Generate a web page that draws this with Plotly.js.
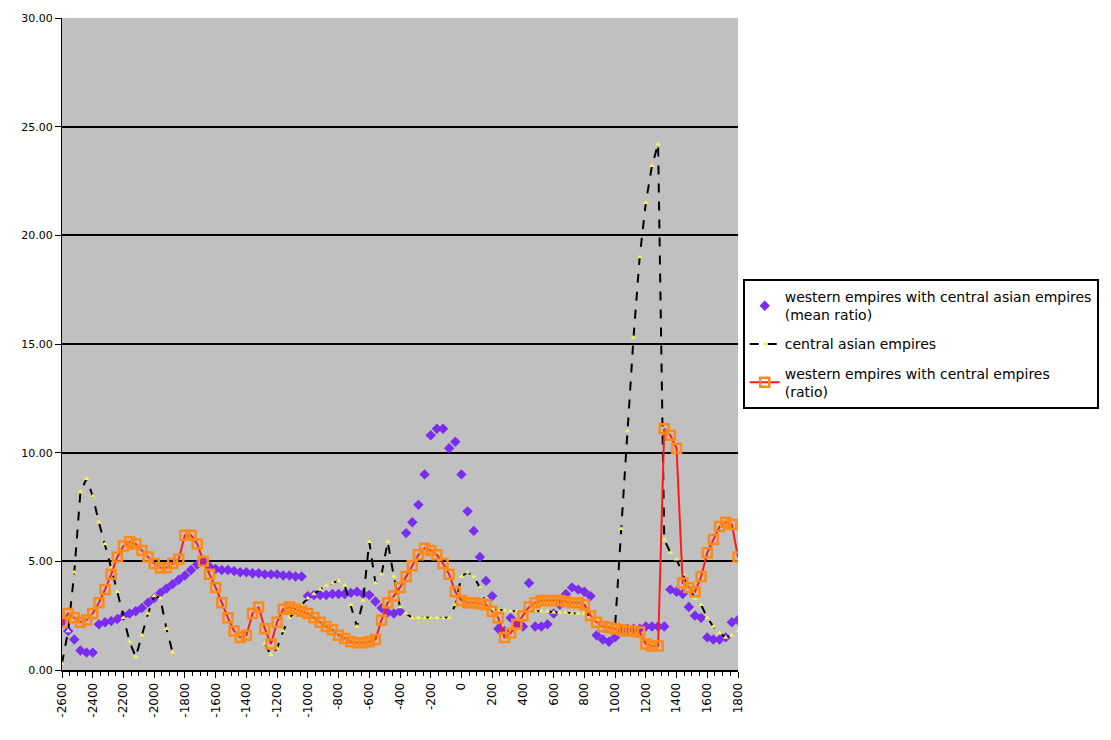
<!DOCTYPE html>
<html>
<head>
<meta charset="utf-8">
<script src="https://cdn.plot.ly/plotly-3.0.1.min.js"></script>
<style>html,body{margin:0;padding:0;background:#fff;}#chart{width:1111px;height:740px;}</style>
</head>
<body>
<div id="chart"></div>
<script>
// Years (category positions)
const years = [
  -2600,-2560,-2520,-2480,-2440,-2400,-2360,-2320,-2280,-2240,
  -2200,-2160,-2120,-2080,-2040,-2000,-1960,-1920,-1880,-1840,
  -1800,-1760,-1720,-1680,-1640,-1600,-1560,-1520,-1480,-1440,
  -1400,-1360,-1320,-1280,-1240,-1200,-1160,-1120,-1080,-1040,
  -1000,-960,-920,-880,-840,-800,-760,-720,-680,-640,
  -600,-560,-520,-480,-440,-400,-360,-320,-280,-240,
  -200,-160,-120,-80,-40,0,40,80,120,160,
  200,240,280,320,360,400,440,480,520,560,
  600,640,680,720,760,800,840,880,920,960,
  1000,1040,1080,1120,1160,1200,1240,1280,1320,1360,
  1400,1440,1480,1520,1560,1600,1640,1680,1720,1760,
  1800
];

// Series 1: western empires with central asian empires (markers only)
const westernWithAsian = [
  2.2,1.8,1.4,0.9,0.8,0.8,2.1,2.2,2.25,2.35,
  2.5,2.6,2.7,2.85,3.1,3.3,3.55,3.75,3.95,4.15,
  4.35,4.6,4.85,5.0,4.75,4.65,4.6,4.6,4.55,4.5,
  4.5,4.45,4.45,4.4,4.4,4.4,4.35,4.35,4.3,4.3,
  3.4,3.45,3.45,3.45,3.5,3.5,3.5,3.55,3.6,3.5,
  3.45,3.15,2.85,2.65,2.6,2.7,6.3,6.8,7.6,9.0,
  10.8,11.1,11.1,10.2,10.5,9.0,7.3,6.4,5.2,4.1,
  3.4,1.9,1.8,2.4,2.1,2.0,4.0,2.0,2.0,2.1,
  2.6,3.0,3.5,3.8,3.7,3.6,3.4,1.6,1.4,1.3,
  1.5,1.8,1.9,1.9,1.9,2.0,2.0,2.0,2.0,3.7,
  3.6,3.5,2.9,2.5,2.4,1.5,1.4,1.4,1.5,2.2,
  2.3
];

// Series 2: central asian empires
const centralAsian = [
  0.3,1.8,4.5,8.2,8.8,8.0,6.8,5.8,4.7,3.6,
  2.4,1.3,0.6,1.6,2.6,3.4,3.3,1.9,0.8,null,
  null,null,null,null,null,null,null,null,null,null,
  null,null,null,1.2,0.7,1.0,1.8,2.4,2.7,3.0,
  3.3,3.5,3.7,3.9,4.0,4.1,3.9,3.0,2.0,3.2,
  5.9,4.0,4.4,5.9,4.3,2.9,2.6,2.4,2.4,2.4,
  2.4,2.4,2.4,2.4,3.0,4.3,4.5,4.3,3.8,3.0,
  2.8,2.75,2.75,2.7,2.7,2.7,2.7,2.7,2.7,2.7,
  2.65,2.65,2.65,2.6,2.6,2.6,2.5,2.3,2.2,2.1,
  2.0,6.5,11.0,15.3,19.0,21.5,23.2,24.2,6.0,5.4,
  5.1,4.4,3.8,3.3,3.0,2.4,2.0,1.7,1.5,1.6,
  1.8
];

// Series 3: western empires with central empires
const westernWithCentral = [
  2.2,2.6,2.4,2.2,2.3,2.6,3.1,3.7,4.4,5.2,
  5.7,5.9,5.8,5.5,5.2,4.9,4.7,4.7,4.9,5.1,
  6.2,6.2,5.8,5.0,4.4,3.8,3.1,2.4,1.8,1.5,
  1.6,2.6,2.9,1.9,1.2,2.2,2.8,2.9,2.8,2.7,
  2.6,2.4,2.2,2.0,1.85,1.6,1.45,1.3,1.25,1.25,
  1.3,1.4,2.3,3.1,3.4,3.8,4.3,4.8,5.3,5.6,
  5.5,5.3,4.9,4.4,3.6,3.2,3.1,3.1,3.05,3.0,
  2.7,2.4,1.5,1.7,2.1,2.5,2.9,3.1,3.2,3.2,
  3.2,3.2,3.15,3.1,3.1,3.0,2.5,2.2,2.0,1.95,
  1.9,1.85,1.8,1.8,1.75,1.2,1.1,1.1,11.1,10.8,
  10.2,4.0,3.8,3.6,4.3,5.4,6.0,6.6,6.8,6.7,
  5.2
];

const seriesNames = [
  'western empires with central asian empires<br>(mean ratio)',
  'central asian empires',
  'western empires with central empires<br>(ratio)'
];

const tickYears = [-2600,-2400,-2200,-2000,-1800,-1600,-1400,-1200,-1000,-800,-600,-400,-200,0,200,400,600,800,1000,1200,1400,1600,1800];

const traces = [
  {
    x: years, y: westernWithAsian, name: seriesNames[0], legendgroup: 'a', type: 'scatter', mode: 'markers',
    marker: {symbol: 'diamond', size: 8, color: '#7a2cf0', line: {width: 0}}
  },
  {
    x: years, y: centralAsian, name: seriesNames[1], legendgroup: 'b', type: 'scatter', mode: 'lines+markers',
    line: {color: '#000000', width: 2, dash: 'dash'},
    marker: {symbol: 'triangle-up', size: 5, color: '#f4f060'},
    connectgaps: false
  },
  {
    x: years, y: westernWithCentral, name: seriesNames[2], legendgroup: 'c', type: 'scatter', mode: 'lines+markers',
    line: {color: '#ff1a1a', width: 2},
    marker: {symbol: 'square-open', size: 9, color: '#ff8a1a', line: {width: 2.5, color: '#ff8a1a'}}
  }
];

const layout = {
  width: 1111, height: 740,
  margin: {l: 62, r: 371, t: 18, b: 70, pad: 0},
  paper_bgcolor: '#ffffff',
  plot_bgcolor: '#c0c0c0',
  font: {family: 'DejaVu Sans, Liberation Sans, Arial, sans-serif', color: '#000', size: 11},
  showlegend: true,
  legend: {
    x: 1.007, y: 0.5, xanchor: 'left', yanchor: 'middle',
    bgcolor: '#ffffff', bordercolor: '#000000', borderwidth: 2,
    font: {size: 14, color: '#000'}, tracegroupgap: 8
  },
  xaxis: {
    range: [-2600, 1800],
    tickmode: 'array', tickvals: tickYears, ticktext: tickYears.map(String),
    tickangle: -90, ticks: 'outside', ticklen: 6, tickwidth: 1, tickcolor: '#000',
    minor: {dtick: 50, tick0: -2600, ticks: 'outside', ticklen: 4, tickcolor: '#000', showgrid: false},
    showgrid: false, zeroline: false,
    showline: true, linecolor: '#000', linewidth: 2,
    tickfont: {size: 12}
  },
  yaxis: {
    range: [0, 30], dtick: 5, tick0: 0, tickformat: '.2f',
    ticks: 'outside', ticklen: 6, tickcolor: '#000',
    showgrid: true, gridcolor: '#000000', gridwidth: 2,
    zeroline: false, showline: true, linecolor: '#000', linewidth: 1,
    tickfont: {size: 11}
  }
};

Plotly.newPlot('chart', traces, layout, {displayModeBar: false, staticPlot: true});
</script>
</body>
</html>
